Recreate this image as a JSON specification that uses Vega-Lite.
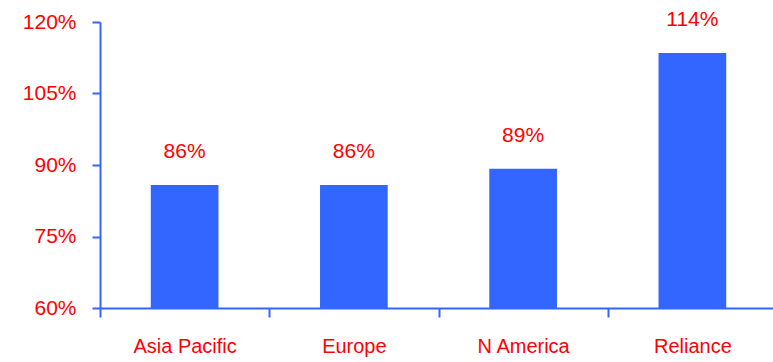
{
  "$schema": "https://vega.github.io/schema/vega-lite/v6.json",
  "width": 677,
  "height": 286,
  "autosize": {"type": "none"},
  "padding": {"left": 100, "top": 22, "right": 0, "bottom": 54},
  "background": "white",
  "config": {"view": {"stroke": null}, "font": "Liberation Sans"},
  "data": {"values": [
    {"region": "Asia Pacific", "v": 0.858},
    {"region": "Europe", "v": 0.858},
    {"region": "N America", "v": 0.892},
    {"region": "Reliance", "v": 1.135}
  ]},
  "encoding": {
    "x": {"field": "region", "type": "nominal", "sort": null,
      "scale": {"paddingInner": 0, "paddingOuter": 0},
      "axis": {"title": null, "labelAngle": 0, "domainColor": "#3366FF", "domainWidth": 2,
        "tickColor": "#3366FF", "tickWidth": 2, "tickSize": 9, "tickBand": "extent",
        "labelColor": "#FF0000", "labelFontSize": 20, "labelPadding": 19, "labelFont": "Liberation Sans"}},
    "y": {"field": "v", "type": "quantitative",
      "scale": {"domain": [0.6, 1.2], "zero": false, "nice": false},
      "axis": {"title": null, "values": [0.6, 0.75, 0.9, 1.05, 1.2], "format": ".0%",
        "grid": false, "domainColor": "#3366FF", "domainWidth": 2,
        "tickColor": "#3366FF", "tickWidth": 2, "tickSize": 8,
        "labelColor": "#FF0000", "labelFontSize": 21, "labelPadding": 16, "labelFont": "Liberation Sans"}}
  },
  "layer": [
    {"mark": {"type": "bar", "color": "#3366FF", "width": {"band": 0.4}},
     "encoding": {"y2": {"datum": 0.6}}},
    {"mark": {"type": "text", "color": "#FF0000", "fontSize": 21, "dy": -27, "baseline": "alphabetic", "font": "Liberation Sans"},
     "encoding": {"text": {"field": "v", "format": ".0%"}}}
  ]
}
